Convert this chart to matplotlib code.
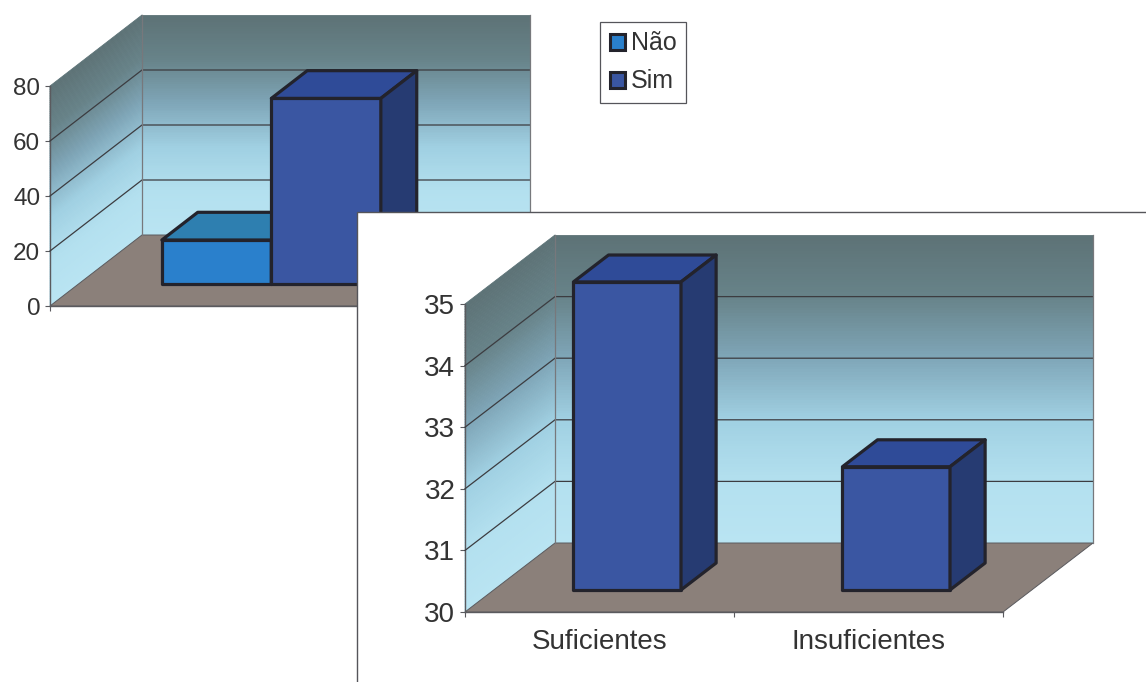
import numpy as np
import matplotlib
matplotlib.use("Agg")
import matplotlib.pyplot as plt
from matplotlib.collections import PolyCollection
from matplotlib.colors import LinearSegmentedColormap
from matplotlib.patches import Patch, Polygon, Rectangle

# ---- data ----
legend_series = ["Não", "Sim"]
top_values = [16, 67.5]
top_yticks = [0, 20, 40, 60, 80]
bottom_categories = ["Suficientes", "Insuficientes"]
bottom_values = [35, 32]
bottom_yticks = [30, 31, 32, 33, 34, 35]

# ---- style ----
W, H = 1146, 682
FONT = "Liberation Sans"
TEXT = "#333333"
LINE = "#3c3c40"
AXIS = "#5a5a5e"
EDGE = "#23232c"
FLOOR = "#8b807a"
BLUE = ("#3a56a2", "#2f4b98", "#263b72")
SKY = ("#2a80cc", "#2e7fb0", "#1f5f90")
wall_cmap = LinearSegmentedColormap.from_list("wall", [
    (0.00, "#b9e4f2"), (0.20, "#b3e0ef"), (0.40, "#a0d0e2"),
    (0.60, "#7fa6b8"), (0.80, "#678389"), (1.00, "#5d7276")])

plt.rcParams["font.family"] = [FONT, "DejaVu Sans"]
fig = plt.figure(figsize=(W / 100, H / 100), dpi=100, facecolor="white")


def px_axes(left, top, right, bottom, z):
    a = fig.add_axes([left / W, 1 - bottom / H, (right - left) / W, (bottom - top) / H])
    a.set_facecolor("none")
    a.set_zorder(z)
    return a


def draw_box(ax, proj, x0, x1, vmin, val, d0, d1, cols):
    front, top, side = cols
    faces = [
        ([(x0, vmin, d0), (x1, vmin, d0), (x1, val, d0), (x0, val, d0)], front),
        ([(x0, val, d0), (x1, val, d0), (x1, val, d1), (x0, val, d1)], top),
        ([(x1, vmin, d0), (x1, vmin, d1), (x1, val, d1), (x1, val, d0)], side),
    ]
    for pts, c in faces:
        ax.add_patch(Polygon([proj(*p) for p in pts], closed=True, fc=c, ec=EDGE,
                             lw=2.3, joinstyle="round", clip_on=False, zorder=5))


def draw_scene(ax, xmax, ymin, ymax, ticks, dx_px, dy_px, fs):
    bbox_w = ax.get_position().width * W
    bbox_h = ax.get_position().height * H
    kx = dx_px / (bbox_w / xmax)
    ky = dy_px / (bbox_h / (ymax - ymin))
    ax.set_xlim(0, xmax)
    ax.set_ylim(ymin, ymax)

    def proj(x, v, d):
        return (x + d * kx, v + d * ky)

    levels = np.linspace(ymin, ymax, 121)
    back, left, cols = [], [], []
    for a, b in zip(levels[:-1], levels[1:]):
        back.append([proj(0, a, 1), proj(xmax, a, 1), proj(xmax, b, 1), proj(0, b, 1)])
        left.append([proj(0, a, 0), proj(0, a, 1), proj(0, b, 1), proj(0, b, 0)])
        cols.append(wall_cmap((a - ymin) / (ymax - ymin)))
    for polys in (back, left):
        ax.add_collection(PolyCollection(polys, facecolors=cols, edgecolors=cols,
                                         linewidths=0.6, clip_on=False, zorder=1))
    ax.add_patch(Polygon([proj(0, ymin, 0), proj(xmax, ymin, 0), proj(xmax, ymin, 1), proj(0, ymin, 1)],
                         closed=True, fc=FLOOR, ec=AXIS, lw=0.7, clip_on=False, zorder=2))
    for t in ticks[1:-1]:
        xs, ys = zip(proj(0, t, 0), proj(0, t, 1), proj(xmax, t, 1))
        ax.plot(xs, ys, color=LINE, lw=0.9, clip_on=False, zorder=3)
    for pts in ([proj(0, ymin, 1), proj(0, ymax, 1)],
                [proj(xmax, ymin, 1), proj(xmax, ymax, 1)]):
        xs, ys = zip(*pts)
        ax.plot(xs, ys, color="#77787c", lw=0.9, clip_on=False, zorder=3)

    ax.set_yticks(ticks)
    ax.tick_params(axis="y", length=3.5, width=0.8, color=AXIS, labelsize=fs, labelcolor=TEXT, pad=3.5)
    ax.tick_params(axis="x", which="major", length=3.5, width=0.8, color=AXIS)
    for s in ("top", "right"):
        ax.spines[s].set_visible(False)
    for s in ("left", "bottom"):
        ax.spines[s].set_color(AXIS)
        ax.spines[s].set_linewidth(1.0)
    return proj


# ---- upper chart ----
ax1 = px_axes(50, 86, 438, 306, 1)
proj1 = draw_scene(ax1, 1, 0, 80, top_yticks, 92, 71, 17.5)
ax1.set_xticks([0, 1])
ax1.set_xticklabels(["", ""])
bw1 = 0.2822
for i, (v, c) in enumerate(zip(top_values, (SKY, BLUE))):
    x0 = 0.497 - bw1 + i * bw1
    draw_box(ax1, proj1, x0, x0 + bw1, 0, v, 0.31, 0.70, c)

handles = [Patch(facecolor=SKY[0], edgecolor=EDGE, linewidth=2.2, label=legend_series[0]),
           Patch(facecolor=BLUE[0], edgecolor=EDGE, linewidth=2.2, label=legend_series[1])]
leg = fig.legend(handles=handles, loc="upper left",
                 bbox_to_anchor=(600 / W, 1 - 22 / H), bbox_transform=fig.transFigure,
                 fontsize=18, frameon=True, fancybox=False, framealpha=1,
                 edgecolor="#55555a", handlelength=0.6, handleheight=0.6,
                 handletextpad=0.25, labelspacing=0.56, borderpad=0.38, borderaxespad=0,
                 labelcolor=TEXT)
leg.get_frame().set_linewidth(0.9)

# ---- lower chart ----
ax2 = px_axes(465, 304, 1003, 612, 2)
panel_top = 1 - 212 / H
ax2.add_patch(Rectangle((357 / W, -0.1), 1, panel_top + 0.1, transform=fig.transFigure,
                        fc="white", ec="#55555a", lw=1.0, clip_on=False, zorder=0))
proj2 = draw_scene(ax2, 2, 30, 35, bottom_yticks, 90, 69, 20)
ax2.set_xticks([0, 1, 2])
ax2.set_xticklabels(["", "", ""])
ax2.set_xticks([0.5, 1.5], minor=True)
ax2.set_xticklabels(bottom_categories, minor=True)
ax2.tick_params(axis="x", which="minor", length=0, labelsize=20, labelcolor=TEXT, pad=12.5)
bw2 = 0.40
for i, v in enumerate(bottom_values):
    x0 = i + 0.496 - bw2 / 2
    draw_box(ax2, proj2, x0, x0 + bw2, 30, v, 0.32, 0.71, BLUE)

fig.savefig("out.png", dpi=100)
